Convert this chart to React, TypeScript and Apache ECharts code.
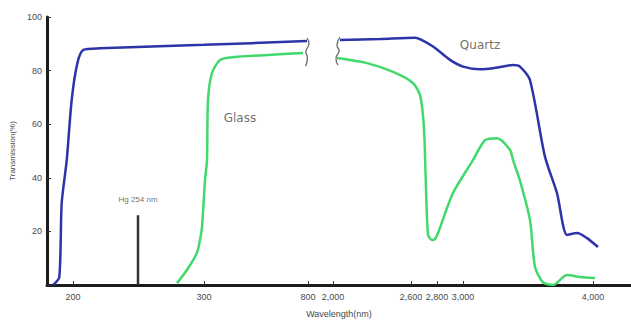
import React, { useEffect, useRef } from "react";
import * as echarts from "echarts";

// Broken, non-uniform wavelength axis: knots (nm) and their layout positions on the axis
const KNOT_NM = [200, 254, 300, 800, 2000, 4000];
const KNOT_POS = [73, 138, 204, 308, 333, 593];

const TICK_NM = [200, 300, 800, 2000, 2600, 2800, 3000, 4000];

// Quartz (blue), before and after the axis break
const quartzLeftNm = [183.6, 188.6, 190.6, 194.8, 198.9, 203.6, 208.6, 222.4, 300, 795];
const quartzLeftT = [0, 2.9, 30.5, 46.6, 69, 82.7, 87.7, 88.3, 89.6, 91];
const quartzRightNm = [2054, 2362, 2631, 2769, 2900, 3000, 3131, 3231, 3385, 3438, 3515, 3631, 3723, 3800, 3877, 3954, 4038];
const quartzRightT = [91.4, 91.8, 92.3, 89, 84, 81.5, 80.5, 80.9, 82.1, 81.5, 76.5, 47.8, 34.3, 18.7, 19.4, 17.5, 14.2];

// Glass (green)
const glassLeftNm = [281.2, 288.1, 295.1, 297.2, 298.6, 304.8, 314.4, 319.2, 338.5, 377, 439, 776];
const glassLeftT = [0.7, 5.6, 12, 16.8, 21.6, 39, 46.6, 69, 79.1, 84, 85, 86.6];
const glassRightNm = [2031, 2262, 2462, 2615, 2669, 2692, 2704, 2711, 2731, 2762, 2785, 2808, 2923, 3077, 3169, 3262, 3362, 3385, 3438, 3515, 3554, 3615, 3692, 3800, 3900, 4015];
const glassRightT = [84.7, 82.8, 79.5, 75.4, 70.9, 63.4, 54, 42.9, 18.7, 16.8, 17.2, 19.4, 34.3, 46.6, 54, 54.8, 50.4, 46.6, 39, 24.3, 6.7, 1, 0, 3.7, 3, 2.6];

// Hg 254 nm emission line
const hgNm = 254;
const hgT = 26;

// Annotations
const annotations = [
  { text: "Glass", nm: 473, t: 62.3 },
  { text: "Quartz", nm: 3131, t: 89.5 },
];

function interp(v: number, xs: number[], ys: number[]) {
  let i = 0;
  if (v <= xs[0]) i = 0;
  else if (v >= xs[xs.length - 1]) i = xs.length - 2;
  else {
    while (i < xs.length - 2 && v > xs[i + 1]) i++;
  }
  const x0 = xs[i], x1 = xs[i + 1], y0 = ys[i], y1 = ys[i + 1];
  return y0 + ((v - x0) * (y1 - y0)) / (x1 - x0);
}
const toPos = (nm: number) => interp(nm, KNOT_NM, KNOT_POS);
const toNm = (pos: number) => interp(pos, KNOT_POS, KNOT_NM);

const pts = (nm: number[], t: number[]) => nm.map((w, i) => [toPos(w), t[i]]);

const BLUE = "#2d33a8";
const GREEN = "#42d96c";
const TEXT = "#4a4a4a";

export default function App() {
  const ref = useRef<HTMLDivElement>(null);
  useEffect(() => {
    if (!ref.current) return;
    const chart = echarts.init(ref.current, null, { renderer: "svg" });
    const lineBase = (name: string, data: number[][], color: string) => ({
      type: "line",
      name,
      data,
      showSymbol: false,
      symbol: "none",
      smooth: 0.25,
      lineStyle: { color, width: 2.5 },
      z: 3,
    });
    const breakShapeL = [[0, -3], [2, 3], [-1, 10], [0.5, 17], [-1.5, 25]];
    const breakShapeR = [[0, -3], [-3, 5], [-1, 11], [-4, 18], [-2, 25]];
    chart.setOption({
      animation: false,
      backgroundColor: "#ffffff",
      textStyle: { fontFamily: "Liberation Sans, Arial, sans-serif" },
      grid: { left: 47, right: 0, top: 17, bottom: 35, containLabel: false, outerBoundsMode: "none" },
      xAxis: {
        type: "value",
        min: 47,
        max: 631,
        name: "Wavelength(nm)",
        nameLocation: "middle",
        nameGap: 24,
        nameTextStyle: { color: TEXT, fontSize: 9 },
        axisLine: { show: true, onZero: false, lineStyle: { color: "#1c1c1c", width: 3 } },
        axisTick: {
          show: true,
          inside: true,
          length: 4,
          customValues: TICK_NM.map(toPos),
          lineStyle: { color: "#333", width: 1 },
        },
        axisLabel: {
          customValues: TICK_NM.map(toPos),
          formatter: (v: number) => Math.round(toNm(v)).toLocaleString("en-US"),
          color: TEXT,
          fontSize: 9,
          margin: 7,
        },
        splitLine: { show: false },
      },
      yAxis: {
        type: "value",
        min: 0,
        max: 100,
        interval: 20,
        name: "Transmission(%)",
        nameLocation: "middle",
        nameGap: 29,
        nameTextStyle: { color: TEXT, fontSize: 8 },
        axisLine: { show: true, lineStyle: { color: "#1c1c1c", width: 3 } },
        axisTick: { show: true, inside: true, length: 4, lineStyle: { color: "#333", width: 1 } },
        axisLabel: {
          formatter: (v: number) => (v === 0 ? "" : String(v)),
          color: TEXT,
          fontSize: 9,
          margin: 5,
        },
        splitLine: { show: false },
      },
      series: [
        lineBase("Quartz", pts(quartzLeftNm, quartzLeftT), BLUE),
        lineBase("Quartz", pts(quartzRightNm, quartzRightT), BLUE),
        lineBase("Glass", pts(glassLeftNm, glassLeftT), GREEN),
        lineBase("Glass", pts(glassRightNm, glassRightT), GREEN),
        {
          type: "line",
          name: "Hg",
          data: [[toPos(hgNm), 0], [toPos(hgNm), hgT]],
          symbol: "none",
          lineStyle: { color: "#333", width: 2.5 },
          z: 2,
        },
        {
          type: "scatter",
          data: [[toPos(hgNm), hgT, "Hg 254 nm"]],
          symbolSize: 0,
          label: {
            show: true,
            position: "top",
            distance: 12,
            formatter: (p: any) => p.value[2],
            color: TEXT,
            fontSize: 8,
          },
          silent: true,
        },
        {
          type: "scatter",
          data: annotations.map((a) => [toPos(a.nm), a.t, a.text]),
          symbolSize: 0,
          label: {
            show: true,
            position: "inside",
            formatter: (p: any) => p.value[2],
            color: TEXT,
            fontSize: 12,
            fontFamily: "DejaVu Sans",
          },
          silent: true,
        },
        {
          type: "custom",
          data: [
            [toPos(quartzLeftNm[quartzLeftNm.length - 1]), quartzLeftT[quartzLeftT.length - 1], 0],
            [toPos(quartzRightNm[0]), quartzRightT[0], 1],
          ],
          encode: { x: 0, y: 1 },
          silent: true,
          z: 5,
          renderItem: (params: any, api: any) => {
            const p = api.coord([api.value(0), api.value(1)]);
            const shape = api.value(2) === 0 ? breakShapeL : breakShapeR;
            return {
              type: "polyline",
              shape: { points: shape.map(([dx, dy]) => [p[0] + dx, p[1] + dy]), smooth: 0.6 },
              style: { stroke: "#6b6b6b", lineWidth: 1.3, fill: "none" },
            };
          },
        },
      ],
    });
    return () => chart.dispose();
  }, []);
  return (
    <div
      ref={ref}
      style={{ position: "fixed", left: 0, top: 0, width: 631, height: 320, background: "#fff" }}
    />
  );
}
